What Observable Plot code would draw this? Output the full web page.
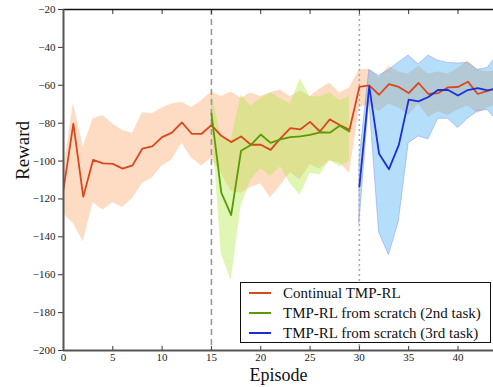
<!DOCTYPE html>
<html>
<head>
<meta charset="utf-8">
<script src="https://cdn.jsdelivr.net/npm/d3@7"></script>
<script src="https://cdn.jsdelivr.net/npm/@observablehq/plot@0.6"></script>
<style>
  html, body { margin: 0; padding: 0; background: white; }
  #wrap { position: relative; width: 493px; height: 387px; }
  #wrap svg text { font-family: "Liberation Serif", serif; }
  #legend {
    position: absolute; left: 240px; top: 282px; width: 249px; height: 59px;
    border: 1.3px solid #111; background: white; box-sizing: content-box;
    font-family: "Liberation Serif", serif; font-size: 15px; color: #111;
  }
  .row { position: absolute; left: 0; height: 20px; display: flex; align-items: center; white-space: nowrap; }
  .sw { width: 22px; height: 0; border-top: 2px solid; margin-left: 8px; margin-right: 12px; }
</style>
</head>
<body>
<div id="wrap"></div>
<script>
const episodesAll = [0,1,2,3,4,5,6,7,8,9,10,11,12,13,14,15,16,17,18,19,20,21,22,23,24,25,26,27,28,29,30,31,32,33,34,35,36,37,38,39,40,41,42,43,44];
const contMean = [-115,-80.3,-118.8,-99.4,-101.2,-101.5,-104,-102.3,-93.4,-92.3,-87.4,-85,-79.6,-85.6,-85.6,
  -81,-86.7,-90,-87,-91.4,-91.4,-94.1,-88,-82.6,-83.3,-79.3,-84.4,-78,-81,-83.5,
  -60.9,-60.1,-65,-59.4,-60.9,-64.1,-58.8,-64.6,-64.1,-61.1,-60.9,-58.1,-64.6,-62.9,-61.5];
const contHi = [-105,-69.4,-92.4,-77.7,-76,-80.4,-83.9,-85.3,-74.5,-75,-72,-69.9,-69,-71.7,-68.2,
  -63.6,-65.9,-63.6,-66.8,-64.1,-65.9,-64,-62.5,-66,-63,-65.9,-62,-58.8,-64.1,-61.5,
  -51.8,-51.5,-56,-50,-53,-54,-50,-54,-53,-54,-51,-47,-52,-53,-52];
const contLo = [-128,-133,-142.6,-122,-125.9,-122,-124.5,-119.7,-111.8,-109,-102.6,-99.4,-90.6,-98.5,-102.6,
  -98.5,-106.5,-116,-117,-114,-112,-119.5,-113,-106,-110,-102,-104,-100,-101,-106.5,
  -72,-70,-74,-70,-72,-76,-70,-77,-74,-76,-73,-71,-75,-72,-70];

const episodes2 = [15,16,17,18,19,20,21,22,23,24,25,26,27,28,29];
const task2Mean = [-75,-116.7,-128.5,-94.6,-91.5,-86,-90.4,-88.6,-87.4,-87,-86.2,-84.8,-85,-81.4,-84.4];
const task2Hi = [-64,-87,-89,-65,-71,-67,-64,-67,-70,-56.5,-66,-66,-64,-68,-66];
const task2Lo = [-78,-149,-163,-124,-110,-104,-108,-103,-112,-118,-106.5,-107.4,-99.4,-103,-100];

const episodes3 = [30,31,32,33,34,35,36,37,38,39,40,41,42,43,44];
const task3Mean = [-113.5,-60.6,-96.2,-104.3,-91.5,-67.6,-68.5,-66.2,-62.4,-62.5,-65.4,-62.5,-61.5,-62.7,-61.5];
const task3Hi = [-100,-52,-55,-52,-48,-44.3,-49,-44.3,-47,-48.2,-48.5,-48.2,-51.8,-50.9,-44];
const task3Lo = [-133,-68,-137.8,-149.7,-132,-90.6,-87,-88.5,-77.7,-77.7,-82.6,-77.7,-73.8,-73,-79];

const taskBoundaries = [15, 30];
const xTicks = [0,5,10,15,20,25,30,35,40];
const yTicks = [-200,-180,-160,-140,-120,-100,-80,-60,-40,-20];
const seriesNames = ["Continual TMP-RL", "TMP-RL from scratch (2nd task)", "TMP-RL from scratch (3rd task)"];
const seriesColors = ["#d8481c", "#5a9a06", "#1c2fd6"];

const cont = episodesAll.map((x, i) => ({x, m: contMean[i], lo: contLo[i], hi: contHi[i]}));
const t2 = episodes2.map((x, i) => ({x, m: task2Mean[i], lo: task2Lo[i], hi: task2Hi[i]}));
const t3 = episodes3.map((x, i) => ({x, m: task3Mean[i], lo: task3Lo[i], hi: task3Hi[i]}));

const fmt = d3.format("d");
const serif = "Liberation Serif, serif";

const chart = Plot.plot({
  width: 493, height: 387,
  marginLeft: 63, marginRight: 0, marginTop: 9, marginBottom: 37,
  x: {domain: [0, 43.6]},
  y: {domain: [-200, -20]},
  style: {fontFamily: serif, fontSize: "11px", background: "white", color: "#222"},
  marks: [
    Plot.areaY(cont, {x: "x", y1: "lo", y2: "hi", fill: "rgb(252,138,58)", fillOpacity: 0.3, clip: true}),
    Plot.areaY(t2, {x: "x", y1: "lo", y2: "hi", fill: "rgb(175,232,67)", fillOpacity: 0.4, clip: true}),
    Plot.areaY(t3, {x: "x", y1: "lo", y2: "hi", fill: "rgb(67,172,242)", fillOpacity: 0.4,
      stroke: "#7070e0", strokeOpacity: 0.35, strokeWidth: 1, clip: true}),
    Plot.ruleX([taskBoundaries[0]], {stroke: "#999", strokeWidth: 1.6, strokeDasharray: "6,4"}),
    Plot.ruleX([taskBoundaries[1]], {stroke: "#aaa", strokeWidth: 1.6, strokeDasharray: "2,3"}),
    Plot.lineY(cont, {x: "x", y: "m", stroke: seriesColors[0], strokeWidth: 1.8, clip: true}),
    Plot.lineY(t2, {x: "x", y: "m", stroke: seriesColors[1], strokeWidth: 1.8, clip: true}),
    Plot.lineY(t3, {x: "x", y: "m", stroke: seriesColors[2], strokeWidth: 1.8, clip: true}),
    Plot.axisY({ticks: yTicks, tickFormat: fmt, tickSize: 5, tickPadding: 3, label: null, stroke: "#333", fontFamily: serif, fontSize: 11}),
    Plot.axisX({anchor: "bottom", ticks: xTicks, tickFormat: fmt, tickSize: 0, tickPadding: 3, label: null, fontFamily: serif, fontSize: 11}),
    Plot.axisX({anchor: "bottom", ticks: xTicks, tickSize: -4, text: null, label: null, stroke: "#333"}),
    Plot.axisX({anchor: "top", ticks: xTicks, tickSize: -4, text: null, label: null, stroke: "#333"}),
    Plot.ruleY([-20], {stroke: "#111", strokeWidth: 1.5}),
    Plot.ruleY([-200], {stroke: "#555", strokeWidth: 2}),
    Plot.ruleX([0], {stroke: "#555", strokeWidth: 2}),
    Plot.text(["Episode"], {frameAnchor: "bottom", dy: 30, fontSize: 18, fontFamily: serif, fill: "#111"}),
    Plot.text(["Reward"], {frameAnchor: "left", dx: -41, rotate: -90, fontSize: 19, fontFamily: serif, fill: "#111"})
  ]
});

const wrap = document.getElementById("wrap");
wrap.appendChild(chart);

const legend = document.createElement("div");
legend.id = "legend";
seriesNames.forEach((name, i) => {
  const row = document.createElement("div");
  row.className = "row";
  row.style.top = (0 + i * 20) + "px";
  const sw = document.createElement("span");
  sw.className = "sw";
  sw.style.borderTopColor = seriesColors[i];
  const tx = document.createElement("span");
  tx.textContent = name;
  row.appendChild(sw); row.appendChild(tx);
  legend.appendChild(row);
});
wrap.appendChild(legend);
</script>
</body>
</html>
